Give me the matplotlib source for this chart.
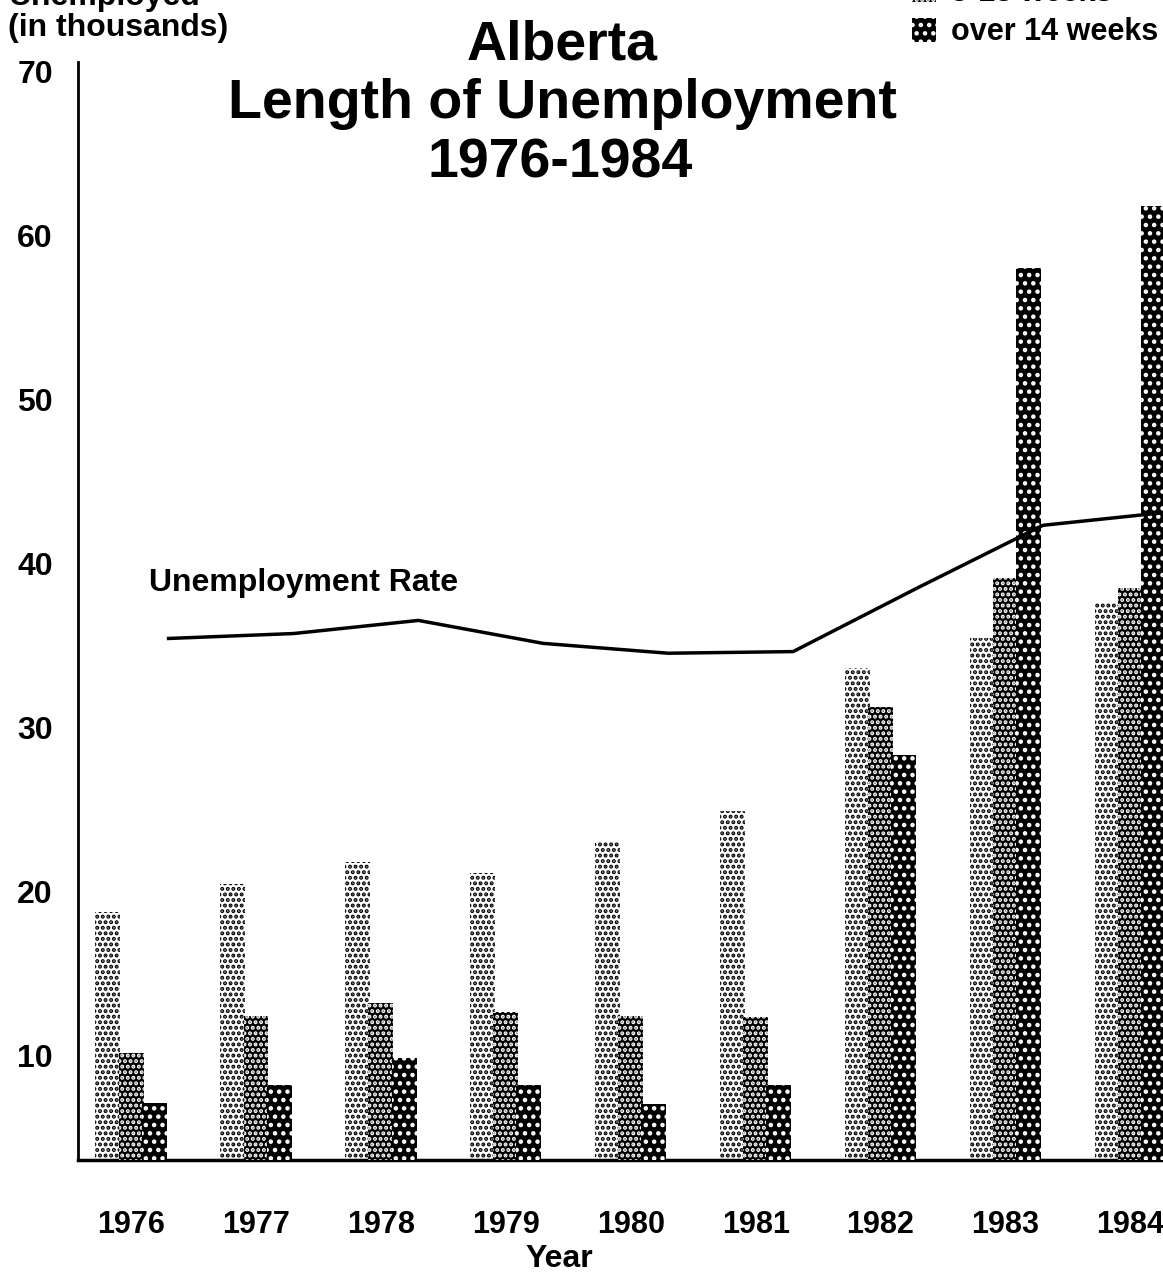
import numpy as np
import matplotlib
matplotlib.use("Agg")
import matplotlib.pyplot as plt

years = ["1976", "1977", "1978", "1979", "1980", "1981", "1982", "1983", "1984"]
short_term = [18.7, 20.4, 21.8, 21.1, 23.0, 24.9, 33.6, 35.4, 37.6]   # 1-4 weeks
mid_term = [10.1, 12.4, 13.2, 12.6, 12.4, 12.3, 31.2, 39.1, 38.5]     # 5-13 weeks
long_term = [7.1, 8.2, 9.8, 8.2, 7.0, 8.2, 28.3, 58.0, 61.8]          # over 14 weeks
rate = [35.4, 35.7, 36.5, 35.1, 34.5, 34.6, 38.5, 42.3, 43.1]         # unemployment rate line
series_labels = ["1-4 weeks", "5-13 weeks", "over 14 weeks"]
y_ticks = [10, 20, 30, 40, 50, 60, 70]

plt.rcParams['font.family'] = ['Liberation Sans', 'DejaVu Sans']
plt.rcParams['font.weight'] = 'bold'
plt.rcParams['hatch.linewidth'] = 2.0

W, H = 1163, 1274
fig = plt.figure(figsize=(W / 100, H / 100), dpi=100)
ax = fig.add_axes([78 / W, 1 - 1160 / H, 1 - 78 / W + 0.002, (1160 - 62) / H])

x = np.arange(len(years))
w = 0.2
off = 0.185
b1 = ax.bar(x - off, short_term, w, facecolor='white', edgecolor='black',
            linewidth=0, hatch='...', zorder=2)
b2 = ax.bar(x, mid_term, w, facecolor='black', edgecolor='white',
            linewidth=0, hatch='...', zorder=3)
b3 = ax.bar(x + off, long_term, w, facecolor='black', edgecolor='white',
            linewidth=0, hatch='..', zorder=4)

ax.plot(x + 0.3, rate, color='black', lw=2.5, zorder=5)
ax.text(0.14, 38.8, "Unemployment Rate", fontsize=23, ha='left', va='center')

ax.set_xlim(-0.425, 8.28)
ax.set_ylim(3.6, 70.55)
ax.set_yticks(y_ticks)
ax.set_xticks(x)
ax.set_xticklabels(years)
ax.tick_params(axis='both', length=0, labelsize=22)
ax.tick_params(axis='y', pad=18, labelsize=23)
ax.tick_params(axis='x', pad=36)
for s in ['top', 'right']:
    ax.spines[s].set_visible(False)
ax.spines['left'].set_linewidth(2)
ax.spines['bottom'].set_linewidth(2.5)

fig.text(559 / W, 1 - 1259 / H, "Year", fontsize=23, ha='center', va='center')

fig.text(8 / W, 1 + 3 / H, "Unemployed", fontsize=23, ha='left', va='center')
fig.text(8 / W, 1 - 28 / H, "(in thousands)", fontsize=23, ha='left', va='center')

fig.text(562 / W, 1 - 45 / H, "Alberta", fontsize=40, ha='center', va='center')
fig.text(562 / W, 1 - 104 / H, "Length of Unemployment", fontsize=40, ha='center', va='center')
fig.text(560 / W, 1 - 164 / H, "1976-1984", fontsize=40, ha='center', va='center')

fig.legend([b1, b2, b3], series_labels, loc='lower left',
           bbox_to_anchor=(884 / W, 1 - 75 / H), frameon=False, fontsize=22,
           handlelength=0.8, handleheight=0.8, handletextpad=0.5,
           labelspacing=0.3, borderpad=0.4)

fig.savefig("out.png", dpi=100)
